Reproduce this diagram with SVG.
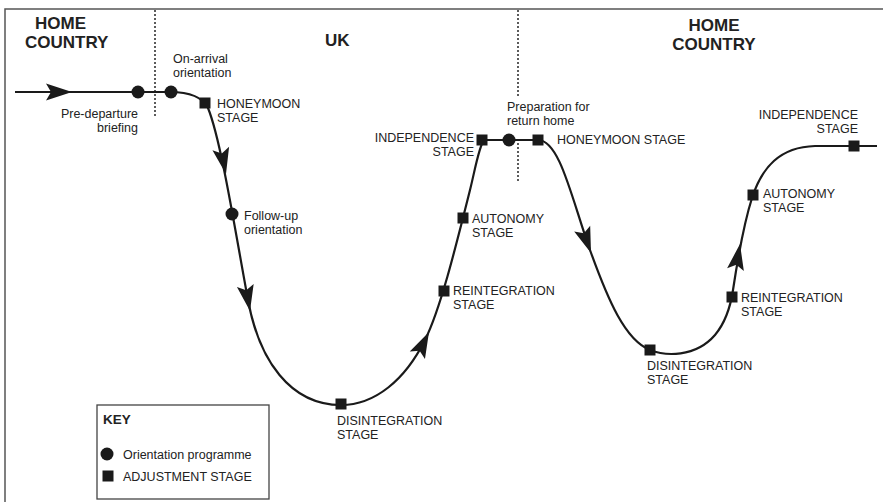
<svg xmlns="http://www.w3.org/2000/svg" width="883" height="502" viewBox="0 0 883 502">
<style>
.t{font-family:"Liberation Sans",Arial,sans-serif;font-size:12.5px;fill:#222}
.b{font-family:"Liberation Sans",Arial,sans-serif;font-size:17px;font-weight:bold;fill:#222}
.e{text-anchor:end}
.sq{fill:#1a1a1a}
.dot{fill:#1a1a1a}
.curve{fill:none;stroke:#1a1a1a;stroke-width:2.2}
.arr{fill:#1a1a1a}
.div{stroke:#333;stroke-width:1.6;stroke-dasharray:2 2;fill:none}
.frame{stroke:#555;stroke-width:1.5;fill:none}
</style>
<defs>
<polygon id="ah" points="0,0 -26,-8.5 -21,0 -26,8.5"/>
<rect id="sqr" x="-5.5" y="-5.5" width="11" height="11"/>
</defs>
<rect width="883" height="502" fill="#fff"/>
<path class="frame" d="M5 502 V9 H883"/>
<g id="dividers">
<line class="div" x1="155" y1="10" x2="155" y2="118"/>
<line class="div" x1="518" y1="10" x2="518" y2="97"/>
<line class="div" x1="518" y1="143" x2="518" y2="183"/>
</g>
<g id="regions">
<text class="b" x="35" y="29">HOME</text>
<text class="b" x="25" y="48">COUNTRY</text>
<text class="b" x="325" y="46">UK</text>
<text class="b" x="714" y="31" text-anchor="middle">HOME</text>
<text class="b" x="714" y="50" text-anchor="middle">COUNTRY</text>
</g>
<g id="connectors">
<path class="curve" d="M15 92 L170 92 C188 92 202 96 208 108 C221 140 235 230 248 300 C259 360 290 405 341 405 C375 405 405 380 425 340 C440 310 455 250 470 190 C475 170 479 146 484 140 L538 140 C560 140 572 200 590 250 C608 300 625 340 650 350 C665 356 695 358 715 335 C725 323 730 310 733 290 C738 257 745 220 752 198 C762 167 780 147 815 146 L877 146"/>
<use href="#ah" class="arr" transform="translate(72 92)"/>
<use href="#ah" class="arr" transform="translate(226 174) rotate(78.4)"/>
<use href="#ah" class="arr" transform="translate(250 311) rotate(79.6)"/>
<use href="#ah" class="arr" transform="translate(429 332) rotate(-63.4)"/>
<use href="#ah" class="arr" transform="translate(591 253) rotate(70.2)"/>
<use href="#ah" class="arr" transform="translate(740 244) rotate(-80)"/>
</g>
<g id="pre-departure">
<circle class="dot" cx="138" cy="92" r="6.5"/>
<text class="t e" x="138" y="118">Pre-departure</text>
<text class="t e" x="138" y="132">briefing</text>
</g>
<g id="on-arrival">
<circle class="dot" cx="171" cy="92" r="6.5"/>
<text class="t" x="173" y="63">On-arrival</text>
<text class="t" x="173" y="77">orientation</text>
</g>
<g id="honeymoon-uk">
<use href="#sqr" class="sq" x="205" y="103"/>
<text class="t" x="217" y="108">HONEYMOON</text>
<text class="t" x="217" y="122">STAGE</text>
</g>
<g id="follow-up">
<circle class="dot" cx="232" cy="214" r="6.5"/>
<text class="t" x="244" y="220">Follow-up</text>
<text class="t" x="244" y="234">orientation</text>
</g>
<g id="disintegration-uk">
<use href="#sqr" class="sq" x="341" y="404"/>
<text class="t" x="337" y="425">DISINTEGRATION</text>
<text class="t" x="337" y="439">STAGE</text>
</g>
<g id="reintegration-uk">
<use href="#sqr" class="sq" x="444" y="291"/>
<text class="t" x="453" y="295">REINTEGRATION</text>
<text class="t" x="453" y="309">STAGE</text>
</g>
<g id="autonomy-uk">
<use href="#sqr" class="sq" x="463" y="218"/>
<text class="t" x="472" y="223">AUTONOMY</text>
<text class="t" x="472" y="237">STAGE</text>
</g>
<g id="independence-uk">
<use href="#sqr" class="sq" x="482" y="140"/>
<text class="t e" x="474" y="142">INDEPENDENCE</text>
<text class="t e" x="474" y="156">STAGE</text>
</g>
<g id="preparation">
<circle class="dot" cx="509" cy="140" r="6.5"/>
<text class="t" x="507" y="111">Preparation for</text>
<text class="t" x="507" y="125">return home</text>
</g>
<g id="honeymoon-home">
<use href="#sqr" class="sq" x="538" y="140"/>
<text class="t" x="557" y="144">HONEYMOON STAGE</text>
</g>
<g id="disintegration-home">
<use href="#sqr" class="sq" x="650" y="350"/>
<text class="t" x="647" y="370">DISINTEGRATION</text>
<text class="t" x="647" y="384">STAGE</text>
</g>
<g id="reintegration-home">
<use href="#sqr" class="sq" x="732" y="297"/>
<text class="t" x="741" y="302">REINTEGRATION</text>
<text class="t" x="741" y="316">STAGE</text>
</g>
<g id="autonomy-home">
<use href="#sqr" class="sq" x="753" y="195"/>
<text class="t" x="763" y="198">AUTONOMY</text>
<text class="t" x="763" y="212">STAGE</text>
</g>
<g id="independence-home">
<use href="#sqr" class="sq" x="854" y="146"/>
<text class="t e" x="858" y="119">INDEPENDENCE</text>
<text class="t e" x="858" y="133">STAGE</text>
</g>
<g id="key">
<rect x="97" y="405" width="172" height="94" fill="none" stroke="#444" stroke-width="1.3"/>
<text class="b" style="font-size:13.5px" x="103" y="424">KEY</text>
<circle class="dot" cx="107" cy="454" r="6.5"/>
<text class="t" x="123" y="459">Orientation programme</text>
<use href="#sqr" class="sq" x="108" y="476"/>
<text class="t" x="123" y="481">ADJUSTMENT STAGE</text>
</g>
</svg>
